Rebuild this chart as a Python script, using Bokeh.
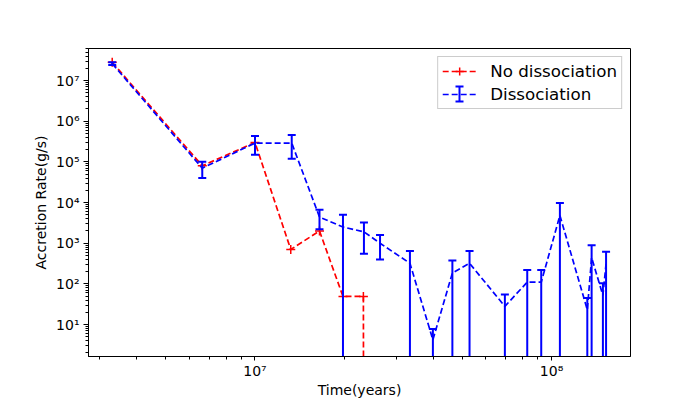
import numpy as np
from bokeh.plotting import figure
from bokeh.models import (Range1d, FixedTicker, CustomJSTickFormatter, Legend, LegendItem,
                          Arrow, TeeHead)
from bokeh.embed import file_html
from bokeh.resources import INLINE

# ---- data ----
red_time = [3.30e6, 6.64e6, 1.00e7, 1.32e7, 1.65e7, 1.98e7, 2.32e7, 2.64e7]
red_rate = [2.8e7, 8.0e4, 3.0e5, 7.0e2, 2.0e3, 4.9e1, 4.9e1, 0.0]

blue_time = [3.30e6, 6.64e6, 1.00e7, 1.33e7, 1.65e7, 1.98e7, 2.33e7, 2.64e7, 3.33e7, 3.98e7,
             4.63e7, 5.29e7, 6.96e7, 8.28e7, 9.23e7, 1.067e8, 1.32e8, 1.365e8, 1.49e8, 1.527e8]
blue_rate = [2.6e7, 7.0e4, 2.9e5, 2.9e5, 4.4e3, 2.5e3, 1.9e3, 1.0e3, 3.2e2, 4.2,
             1.85e2, 3.2e2, 2.8e1, 1.1e2, 1.1e2, 4.8e3, 2.3e1, 4.4e2, 5.2e1, 3.1e2]
blue_err = [2.0e6, 3.0e4, 1.4e5, 1.7e5, 2.2e3, 2.5e3, 1.35e3, 6.0e2, 3.2e2, 3.6,
            1.9e2, 3.2e2, 2.7e1, 1.1e2, 1.1e2, 5.0e3, 2.2e1, 4.5e2, 5.2e1, 3.1e2]

x_major_ticks = [1e7, 1e8]
x_tick_labels = ["10\u2077", "10\u2078"]
y_major_ticks = [1e1, 1e2, 1e3, 1e4, 1e5, 1e6, 1e7]
y_tick_labels = ["10\u00b9", "10\u00b2", "10\u00b3", "10\u2074", "10\u2075", "10\u2076", "10\u2077"]

x_label = "Time(years)"
y_label = "Accretion Rate(g/s)"
series_names = ["No dissociation", "Dissociation"]

# ---- derived ----
red_t = np.array(red_time)
red_r = np.array(red_rate)
# non-positive values are clipped far below the axis (as a log axis does)
red_line_r = np.where(red_r > 0, red_r, 1e-300)
pos = red_r > 0

bt = np.array(blue_time)
br = np.array(blue_rate)
be = np.array(blue_err)
upper = br + be
lower = np.maximum(br - be, 1e-6)

FONT = "DejaVu Sans"

p = figure(width=700, height=400, x_axis_type="log", y_axis_type="log",
           x_range=Range1d(2.745e6, 1.846e8), y_range=Range1d(1.636, 6.13e7),
           output_backend="svg", toolbar_location=None,
           min_border_left=88, min_border_right=70, min_border_top=48, min_border_bottom=44)
p.background_fill_color = "white"
p.border_fill_color = "white"
p.xgrid.visible = False
p.ygrid.visible = False
p.outline_line_color = "black"
p.outline_line_width = 1
p.outline_line_alpha = 1.0

fmt_code = """
let best = 0, d = Infinity;
for (let i = 0; i < vals.length; i++) {
  const dd = Math.abs(Math.log10(tick) - Math.log10(vals[i]));
  if (dd < d) { d = dd; best = i; }
}
return labs[best];
"""
x_minor = [k * 10.0 ** e for e in range(6, 9) for k in range(2, 10)]
y_minor = [k * 10.0 ** e for e in range(0, 8) for k in range(2, 10)]
p.xaxis.ticker = FixedTicker(ticks=x_major_ticks, minor_ticks=x_minor)
p.yaxis.ticker = FixedTicker(ticks=y_major_ticks, minor_ticks=y_minor)
p.xaxis.formatter = CustomJSTickFormatter(args=dict(vals=x_major_ticks, labs=x_tick_labels), code=fmt_code)
p.yaxis.formatter = CustomJSTickFormatter(args=dict(vals=y_major_ticks, labs=y_tick_labels), code=fmt_code)

for ax in (p.xaxis, p.yaxis):
    ax.axis_line_color = "black"
    ax.major_tick_line_color = "black"
    ax.minor_tick_line_color = "black"
    ax.major_tick_in = 0
    ax.major_tick_out = 5
    ax.minor_tick_in = 0
    ax.minor_tick_out = 3
    ax.major_label_text_font = FONT
    ax.major_label_text_font_size = "14px"
    ax.major_label_text_color = "black"
    ax.axis_label_text_font = FONT
    ax.axis_label_text_font_size = "14px"
    ax.axis_label_text_font_style = "normal"
    ax.axis_label_text_color = "black"
p.xaxis.axis_label = x_label
p.yaxis.axis_label = y_label
p.xaxis.major_tick_out = 4
p.xaxis.major_label_standoff = 2
p.xaxis.axis_label_standoff = 0
p.yaxis.major_label_standoff = 4
p.yaxis.axis_label_standoff = 4

# red series
red_line = p.line(red_t, red_line_r, line_color="red", line_dash="6 3", line_width=1.7)
red_pts = p.scatter(red_t[pos], red_r[pos], marker="cross", size=9, line_color="red", line_width=1.5)

# blue series with error bars
blue_line = p.line(bt, br, line_color="blue", line_dash="6 3", line_width=1.7)
p.segment(x0=bt, y0=lower, x1=bt, y1=upper, line_color="blue", line_width=2)
p.scatter(bt, upper, marker="dash", size=8, line_color="blue", line_width=2)
p.scatter(bt, lower, marker="dash", size=8, line_color="blue", line_width=2)

legend = Legend(items=[LegendItem(label=series_names[0], renderers=[red_line, red_pts]),
                       LegendItem(label=series_names[1], renderers=[blue_line])],
                location="top_right", margin=8, padding=4, spacing=3,
                glyph_width=34, glyph_height=20, label_standoff=14,
                label_text_font=FONT, label_text_font_size="16.7px", label_text_color="black",
                border_line_color="#cccccc", border_line_width=1, border_line_alpha=1.0,
                background_fill_color="white", background_fill_alpha=0.0)
p.add_layout(legend)

# errorbar symbol in the legend
icon = Arrow(x_start=371, y_start=255, x_end=371, y_end=270,
             start_units="screen", end_units="screen",
             start=TeeHead(size=8, line_color="blue", line_width=2),
             end=TeeHead(size=8, line_color="blue", line_width=2),
             line_color="blue", line_width=2, level="overlay")
p.add_layout(icon)

open("out.html", "w").write(file_html(p, INLINE))
